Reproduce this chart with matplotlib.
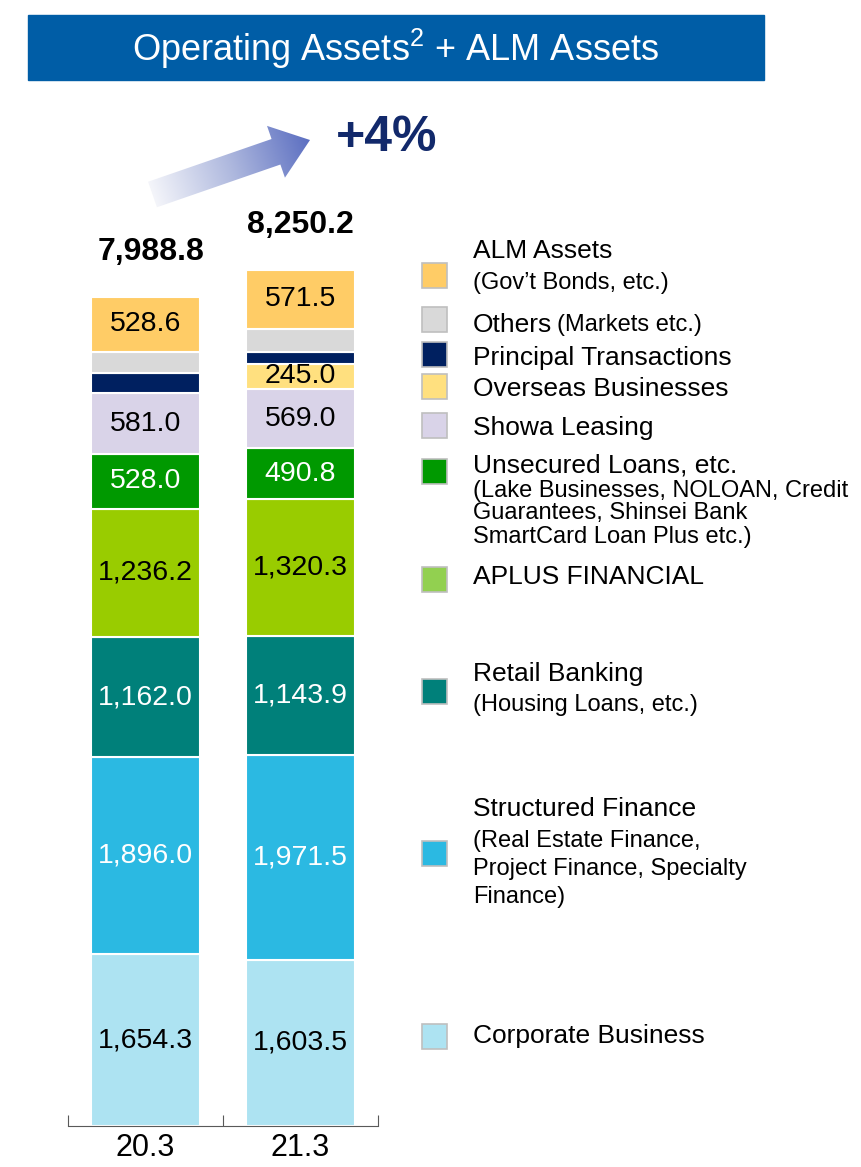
import numpy as np
import matplotlib
matplotlib.use('Agg')
import matplotlib.pyplot as plt
from matplotlib.colors import LinearSegmentedColormap
from matplotlib.patches import Polygon, Rectangle

plt.rcParams.update({'font.family': 'Liberation Sans'})
plt.rcParams.update({'mathtext.fontset': 'custom', 'mathtext.rm': 'Liberation Sans'})

# fiscal year ends, JPY bn
periods = ['20.3', '21.3']
segments = ['Corporate Business', 'Structured Finance', 'Retail Banking',
            'APLUS FINANCIAL', 'Unsecured Loans, etc.', 'Showa Leasing',
            'Overseas Businesses', 'Principal Transactions', 'Others',
            'ALM Assets']
fy20 = [1654.3, 1896.0, 1162.0, 1236.2, 528.0, 581.0, 0.0, 192.7, 210.0, 528.6]
fy21 = [1603.5, 1971.5, 1143.9, 1320.3, 490.8, 569.0, 245.0, 114.7, 220.0, 571.5]
labelled = [True, True, True, True, True, True, True, False, False, True]
growth = '+4%'

colors = ['#ADE3F2', '#2BB9E2', '#00807A', '#99CC00', '#009900',
          '#D9D3E8', '#FFE07F', '#002060', '#D9D9D9', '#FFCC66']
swatch = dict(zip(segments, colors))
swatch['APLUS FINANCIAL'] = '#92D050'
white_text = {'Structured Finance', 'Retail Banking', 'Unsecured Loans, etc.'}

W, H = 861, 1167
fig = plt.figure(figsize=(W / 100, H / 100), dpi=100)

# bar panel, placed in pixels
x0, x1, ybase, ytop = 68, 378, 1126, 200
px_per_unit = 0.1038
ax = fig.add_axes([x0 / W, 1 - ybase / H, (x1 - x0) / W, (ybase - ytop) / H])
ax.set_xlim(0, 2)
ax.set_ylim(0, (ybase - ytop) / px_per_unit)

xpos = np.array([0.5, 1.5])
data = np.array([fy20, fy21])
bottom = np.zeros(2)
for i, name in enumerate(segments):
    vals = data[:, i]
    ax.bar(xpos, vals, bottom=bottom, width=0.703, color=colors[i],
           edgecolor='white', linewidth=1.5)
    if labelled[i]:
        for xx, v, b in zip(xpos, vals, bottom):
            if v > 0:
                ax.text(xx, b + v / 2, f'{v:,.1f}', ha='center', va='center',
                        fontsize=20.5,
                        color='white' if name in white_text else 'black')
    bottom += vals

for xx, tot, dx in zip(xpos, bottom, [4, 0]):
    ax.annotate(f'{tot:,.1f}', (xx, tot), xytext=(dx, 32),
                textcoords='offset points', ha='center', va='center',
                fontsize=23, fontweight='bold')

for s in ['top', 'right', 'left']:
    ax.spines[s].set_visible(False)
ax.spines['bottom'].set_color('#595959')
ax.set_yticks([])
ax.set_xticks([0, 1, 2])
ax.tick_params(axis='x', which='major', direction='in', length=8,
               color='#595959', labelbottom=False)
ax.set_xticks(xpos, minor=True)
ax.set_xticklabels(periods, minor=True, fontsize=22)
ax.tick_params(axis='x', which='minor', length=0, pad=5)

# overlay in pixel coordinates for banner, arrow and legend
ov = fig.add_axes([0, 0, 1, 1])
ov.set_xlim(0, W)
ov.set_ylim(H, 0)
ov.axis('off')

ov.add_patch(Rectangle((28, 15), 736, 65, color='#005DA6'))
ov.text(396, 49, r'Operating Assets$^{\mathregular{2}}$ + ALM Assets',
        ha='center', va='center', color='white', fontsize=26)

# gradient arrow
tail = np.array([152.5, 194.5])
u = np.array([157.5, -54.5])
length = np.hypot(*u)
u = u / length
n = np.array([-u[1], u[0]])
hw_shaft, hw_head, head_len = 13.5, 27.4, 36
neck = tail + (length - head_len) * u
pts = [tail - hw_shaft * n, neck - hw_shaft * n, neck - hw_head * n,
       tail + length * u, neck + hw_head * n, neck + hw_shaft * n,
       tail + hw_shaft * n]
arrow = Polygon(pts, closed=True, facecolor='none', edgecolor='none')
ov.add_patch(arrow)
bx0, bx1 = 140, 320
by0, by1 = 115, 215
gx, gy = np.meshgrid(np.linspace(bx0, bx1, 200), np.linspace(by0, by1, 120))
t = ((gx - tail[0]) * u[0] + (gy - tail[1]) * u[1]) / length
grad = LinearSegmentedColormap.from_list('arr', ['#F4F5FA', '#AEB8DE', '#5C6FC1'])
im = ov.imshow(t, cmap=grad, vmin=0, vmax=1, extent=(bx0, bx1, by1, by0),
               origin='upper', aspect='auto', interpolation='bilinear')
im.set_clip_path(arrow)
ov.set_xlim(0, W)
ov.set_ylim(H, 0)

ov.text(387, 138, growth, ha='center', va='center', fontsize=36,
        fontweight='bold', color='#12296B')

# legend
notes = {
    'ALM Assets': ['(Gov\u2019t Bonds, etc.)'],
    'Retail Banking': ['(Housing Loans, etc.)'],
    'Structured Finance': ['(Real Estate Finance,', 'Project Finance, Specialty',
                           'Finance)'],
    'Unsecured Loans, etc.': ['(Lake Businesses, NOLOAN, Credit',
                              'Guarantees, Shinsei Bank',
                              'SmartCard Loan Plus etc.)'],
}
legend_rows = {
    'ALM Assets': (275, 249, [280]),
    'Others': (319, 322, []),
    'Principal Transactions': (354, 355, []),
    'Overseas Businesses': (386, 387, []),
    'Showa Leasing': (425, 426, []),
    'Unsecured Loans, etc.': (471, 463, [488, 511, 534]),
    'APLUS FINANCIAL': (579, 574, []),
    'Retail Banking': (691, 672, [702]),
    'Structured Finance': (853, 807, [838, 866, 895]),
    'Corporate Business': (1036, 1033, []),
}
for name, (sy, ty, note_ys) in legend_rows.items():
    ov.add_patch(Rectangle((422, sy - 12.5), 25, 25, facecolor=swatch[name],
                           edgecolor='#BFBFBF', linewidth=1.2))
    ov.text(473, ty + 9.5, name, ha='left', va='baseline', fontsize=19)
    for line, ly in zip(notes.get(name, []), note_ys):
        ov.text(473, ly + 8.5, line, ha='left', va='baseline', fontsize=17)
ov.text(557, 322 + 8.5, '(Markets etc.)', ha='left', va='baseline', fontsize=17)

fig.savefig('out.png', dpi=100)
